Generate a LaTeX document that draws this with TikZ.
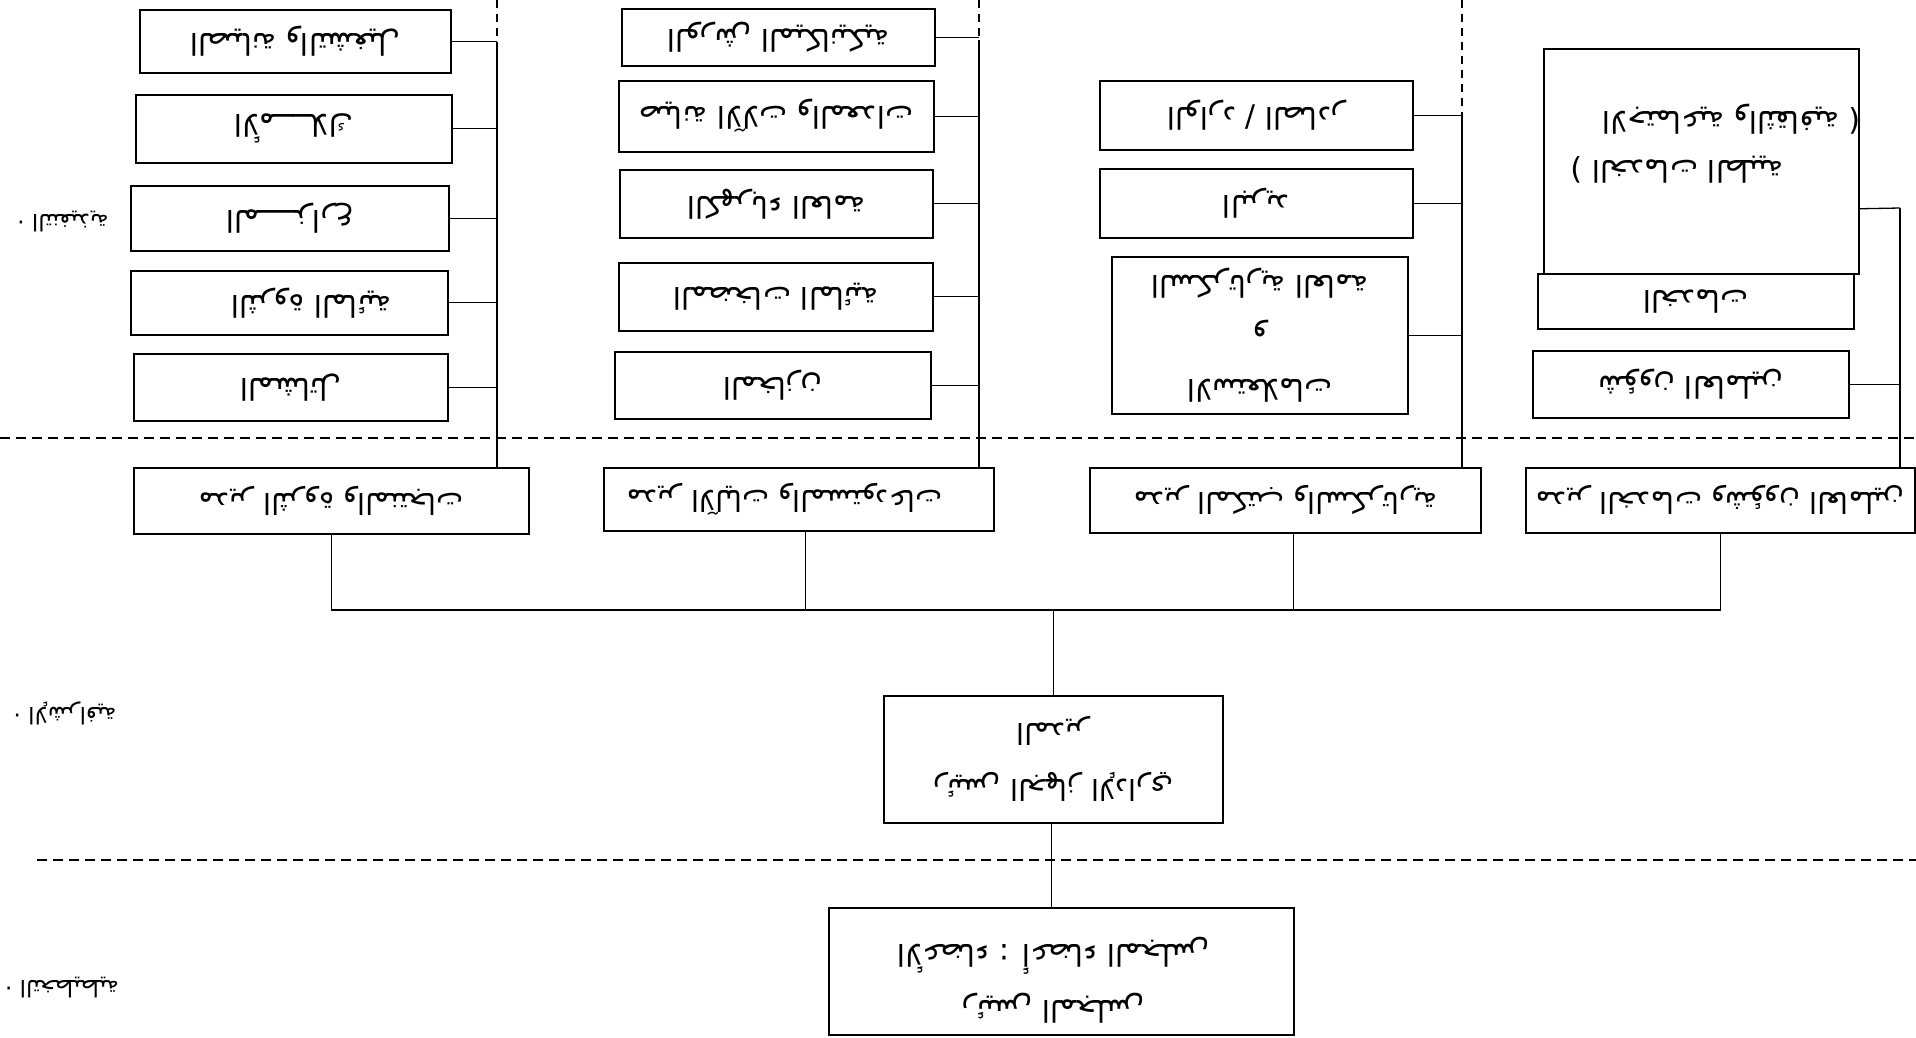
\documentclass[tikz,border=0pt]{standalone}
\usepackage{fontspec}
\usepackage{graphicx}
\newfontfamily\arabicfont[Script=Arabic]{DejaVu Sans}
\TeXXeTstate=1
\newcommand\AR[1]{\beginR #1\endR}
\begin{document}
\begin{tikzpicture}[x=1pt,y=-1pt,
  box/.style={draw, line width=1.5pt, anchor=north west, inner sep=0pt},
  conn/.style={line width=1.3pt},
  busdash/.style={line width=1.3pt, dash pattern=on 8pt off 6pt},
  sepline/.style={line width=1.3pt, dash pattern=on 10pt off 6pt},
  dept/.style={rotate=180, align=center, inner sep=0pt, font=\arabicfont\fontsize{30}{44}\selectfont},
  mgr/.style={rotate=180, align=center, inner sep=0pt, font=\arabicfont\fontsize{29}{44}\selectfont},
  gm/.style={rotate=180, align=center, inner sep=0pt, font=\arabicfont\fontsize{29}{56}\selectfont},
  brd/.style={rotate=180, align=center, inner sep=0pt, font=\arabicfont\fontsize{30}{56}\selectfont},
  lvl/.style={rotate=180, align=center, inner sep=0pt, font=\arabicfont\fontsize{23}{30}\selectfont}]
\useasboundingbox (0,0) rectangle (1916,1037);

% ---------- group 1 ----------
\node[box, minimum width=311pt, minimum height=63pt] (a1) at (139,9) {};
\node[box, minimum width=316pt, minimum height=68pt] (a2) at (135,94) {};
\node[box, minimum width=318pt, minimum height=65pt] (a3) at (130,185) {};
\node[box, minimum width=317pt, minimum height=64pt] (a4) at (130,270) {};
\node[box, minimum width=314pt, minimum height=67pt] (a5) at (133,353) {};
\node[box, minimum width=395pt, minimum height=66pt] (m1) at (133,467) {};
\node[dept] (a1t) at (a1.center) {\AR{الصيانة والتشغيل}};
\node[dept] (a2t) at (a2.center) {\AR{الأمــــلاك}};
\node[dept] (a3t) at (a3.center) {\AR{المــــزارع}};
\node[dept] (a4t) at ([xshift=22pt]a4.center) {\AR{الثروة المائية}};
\node[dept] (a5t) at (a5.center) {\AR{المشاتل}};
\node[mgr] (m1t) at (m1.center) {\AR{مدير الثروة والمنتجات}};

% ---------- group 2 ----------
\node[box, minimum width=313pt, minimum height=57pt] (b1) at (621,8) {};
\node[box, minimum width=315pt, minimum height=71pt] (b2) at (618,80) {};
\node[box, minimum width=313pt, minimum height=68pt] (b3) at (619,169) {};
\node[box, minimum width=314pt, minimum height=68pt] (b4) at (618,262) {};
\node[box, minimum width=316pt, minimum height=67pt] (b5) at (614,351) {};
\node[box, minimum width=390pt, minimum height=63pt] (m2) at (603,467) {};
\node[dept] (b1t) at (b1.center) {\AR{الورش الميكانيكية}};
\node[dept] (b2t) at (b2.center) {\AR{صيانة الآلات والمعدات}};
\node[dept] (b3t) at (b3.center) {\AR{الكهرباء العامة}};
\node[dept] (b4t) at (b4.center) {\AR{المضخات المائية}};
\node[dept] (b5t) at (b5.center) {\AR{المخازن}};
\node[mgr] (m2t) at ([xshift=-14pt]m2.center) {\AR{مدير الآليات والمستودعات}};

% ---------- group 3 ----------
\node[box, minimum width=313pt, minimum height=69pt] (c1) at (1099,80) {};
\node[box, minimum width=313pt, minimum height=69pt] (c2) at (1099,168) {};
\node[box, minimum width=296pt, minimum height=157pt] (c3) at (1111,256) {};
\node[box, minimum width=391pt, minimum height=65pt] (m3) at (1089,467) {};
\node[dept] (c1t) at (c1.center) {\AR{الوارد / الصادر}};
\node[dept] (c2t) at (c2.center) {\AR{البريد}};
\node[dept, font=\arabicfont\fontsize{30}{52}\selectfont] (c3t) at (c3.center) {\AR{الاستعلامات}\\\AR{و}\\\AR{السكرتارية العامة}};
\node[mgr] (m3t) at (m3.center) {\AR{مدير المكتب والسكرتارية}};

% ---------- group 4 ----------
\node[box, minimum width=315pt, minimum height=225pt] (d1) at (1543,48) {};
\node[box, minimum width=316pt, minimum height=55pt] (d1s) at (1537,273) {};
\node[box, minimum width=316pt, minimum height=67pt] (d2) at (1532,350) {};
\node[box, minimum width=389pt, minimum height=65pt] (m4) at (1525,467) {};
\node[dept] (d1ta) at ([xshift=30pt,yshift=42pt]d1.center) {\AR{الاجتماعية والثقافية )}};
\node[dept] (d1tb) at ([xshift=-24pt,yshift=-8pt]d1.center) {\AR{( الخدمات الطبية}};
\node[dept] (d1st) at (d1s.center) {\AR{الخدمات}};
\node[dept] (d2t) at (d2.center) {\AR{شؤون العاملين}};
\node[mgr] (m4t) at (m4.center) {\AR{مدير الخدمات وشؤون العاملين}};

% ---------- general manager and board ----------
\node[box, minimum width=339pt, minimum height=127pt] (e) at (883,695) {};
\node[box, minimum width=465pt, minimum height=127pt] (f) at (828,907) {};
\node[gm] (et) at (e.center) {\AR{رئيس الجهاز الإداري}\\\AR{المدير}};
\node[brd] (ft) at ([xshift=-8pt,yshift=-9pt]f.center) {\AR{رئيس المجلس}\\\AR{الأعضاء : أعضاء المجلس}};

% ---------- level labels ----------
\node[lvl] (lA) at (63,222) {\AR{· التنفيذية}};
\node[lvl] (lB) at (65,713) {\AR{· الإشرافية}};
\node[lvl] (lC) at (62,988) {\AR{· التخطيطية}};

% ---------- buses ----------
\coordinate (g1top) at (497,0);
\coordinate (g1mid) at (497,42);
\coordinate (g2top) at (979,0);
\coordinate (g2mid) at (979,40);
\coordinate (g3top) at (1462,0);
\coordinate (g3mid) at (1462,115);
\coordinate (g4mid) at (1900,208);
\draw[busdash] (g1top) -- (g1mid);
\draw[conn] (g1mid) -- (g1mid |- m1.north);
\draw[busdash] (g2top) -- (g2mid);
\draw[conn] (g2mid) -- (g2mid |- m2.north);
\draw[busdash] (g3top) -- (g3mid);
\draw[conn] (g3mid) -- (g3mid |- m3.north);
\draw[conn] (g4mid) -- (g4mid |- m4.north);

\foreach \n in {a1,a2,a3,a4,a5} \draw[conn] (\n.east) -- (\n.east -| g1top);
\foreach \n in {b1,b2,b3,b4,b5} \draw[conn] (\n.east) -- (\n.east -| g2top);
\foreach \n in {c1,c2,c3} \draw[conn] (\n.east) -- (\n.east -| g3top);
\draw[conn] ([yshift=-47.5pt]d1.east) -- (g4mid);
\draw[conn] (d2.east) -- (d2.east -| g4mid);

% ---------- lower tree ----------
\coordinate (bar) at (0,610);
\draw[conn] (m1.south) -- (m1.south |- bar) -- (m4.south |- bar) -- (m4.south);
\draw[conn] ([xshift=7pt]m2.south) -- ([xshift=7pt]m2.south |- bar);
\draw[conn] ([xshift=8pt]m3.south) -- ([xshift=8pt]m3.south |- bar);
\draw[conn] (e.north) -- (e.north |- bar);
\draw[conn] ([xshift=-2pt]e.south) -- ([xshift=-2pt]e.south |- f.north);

% ---------- level separators ----------
\coordinate (s1l) at (0,438);
\coordinate (s1r) at (1916,438);
\coordinate (s2l) at (37,860);
\coordinate (s2r) at (1916,860);
\draw[sepline] (s1l) -- (s1r);
\draw[sepline] (s2l) -- (s2r);
\end{tikzpicture}
\end{document}
